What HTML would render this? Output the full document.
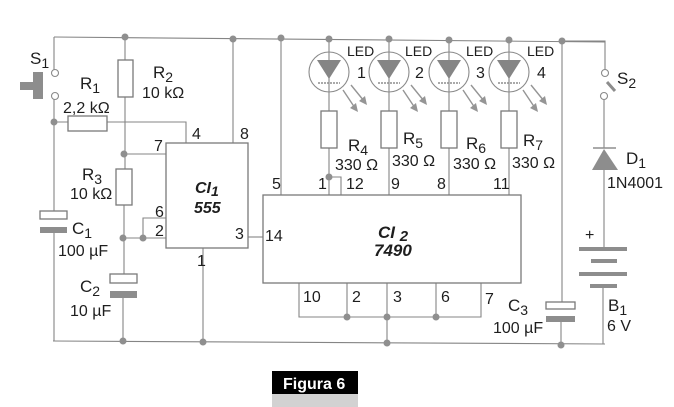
<!DOCTYPE html>
<html><head><meta charset="utf-8"><style>
html,body{margin:0;padding:0;background:#fff;}
svg{display:block;}
text{font-family:"Liberation Sans",Arial,sans-serif;fill:#1e1e1e;}
</style></head><body>
<svg width="674" height="407" viewBox="0 0 674 407" xmlns="http://www.w3.org/2000/svg">
<g stroke="#858585" stroke-width="1.1" fill="none">
<!-- top & bottom rails -->
<path d="M54 37 L605 42"/>
<path d="M53 341 L605 344"/>
<!-- left rail S1/C1 -->
<path d="M54 37 V70 M54 99 V211 M54 233 V341"/>
<!-- R2/R3/C2 column -->
<path d="M125 37 V60 M125 97 V169 M124 205 V274 M123 298 V341"/>
<!-- R1 -->
<path d="M54 122 H68 M107 122 H186 V143"/>
<!-- pin7 -->
<path d="M124 154 H166"/>
<!-- pin 2/6 -->
<path d="M123 238 H166 M143 238 V218 H166"/>
<!-- pin 8 -->
<path d="M233 39 V143"/>
<!-- pin 1 CI1 -->
<path d="M203 248 V342"/>
<!-- pin 3 to 14 -->
<path d="M248 237 H263"/>
<!-- pin 5 -->
<path d="M281 38 V195"/>
<!-- LED columns -->
<path d="M329 39 V111 M329 148 V195 M329 177 H341 V195"/>
<path d="M389 39 V111 M389 148 V195"/>
<path d="M449 40 V111 M449 148 V195"/>
<path d="M509 40 V111 M509 148 V195"/>
<!-- bottom pins CI2 -->
<path d="M299 283 V317 H481 V283 M347 283 V317 M387 283 V343 M436 283 V317"/>
<!-- C3 column -->
<path d="M562 41 V302 M561 322 V345"/>
<!-- S2/D1/B1 -->
<path d="M562 41 H605 V70 M604 99 V148 M604 170 V247 M603 288 V344"/>
</g>
<!-- ICs -->
<rect x="166" y="143" width="82" height="105" fill="#fff" stroke="#7a7a7a" stroke-width="1.3"/>
<rect x="263" y="195" width="258" height="88" fill="#fff" stroke="#7a7a7a" stroke-width="1.3"/>
<!-- resistors -->
<g fill="#fff" stroke="#7a7a7a" stroke-width="1.3">
<rect x="68" y="116" width="39" height="15"/>
<rect x="118" y="60" width="15" height="37"/>
<rect x="116" y="169" width="16" height="36"/>
<rect x="321" y="111" width="16" height="37"/>
<rect x="381" y="111" width="16" height="37"/>
<rect x="441" y="111" width="16" height="37"/>
<rect x="501" y="111" width="16" height="37"/>
<!-- capacitor white plates -->
<rect x="40" y="211" width="27" height="8"/>
<rect x="110" y="274" width="27" height="9"/>
<rect x="546" y="302" width="29" height="7"/>
</g>
<!-- capacitor filled plates -->
<g fill="#8d8d8d">
<rect x="40" y="227" width="27" height="6"/>
<rect x="110" y="291" width="27" height="7"/>
<rect x="546" y="316" width="29" height="6"/>
<!-- battery -->
<rect x="579" y="247" width="48" height="4"/>
<rect x="591" y="259" width="26" height="4"/>
<rect x="579" y="272" width="48" height="4"/>
<rect x="590" y="284" width="27" height="4"/>
<!-- push button S1 -->
<rect x="33" y="72" width="10" height="27"/>
<rect x="20" y="82" width="13" height="8"/>
<!-- diode -->
<path d="M604 149 L592 170 L618 170 Z"/>
</g>
<path d="M593 148 H616" stroke="#8d8d8d" stroke-width="1.5"/>
<!-- S1/S2 contacts -->
<g fill="#fff" stroke="#8a8a8a" stroke-width="1.1">
<circle cx="55" cy="73" r="3.5"/>
<circle cx="55" cy="96" r="3.5"/>
<circle cx="605" cy="73" r="3.5"/>
<circle cx="604" cy="96" r="3.5"/>
</g>
<path d="M607 82 L615 91" stroke="#8d8d8d" stroke-width="3"/>
<!-- LEDs -->
<g id="leds">
<g stroke="#8a8a8a" stroke-width="1.1" fill="none">
<circle cx="329" cy="72" r="20"/>
<circle cx="389" cy="72" r="20"/>
<circle cx="449" cy="72" r="20"/>
<circle cx="509" cy="72" r="20"/>
</g>
<g fill="#858585">
<path d="M317 60 H341 L329 79 Z"/>
<path d="M377 60 H401 L389 79 Z"/>
<path d="M437 60 H461 L449 79 Z"/>
<path d="M497 60 H521 L509 79 Z"/>
</g>
<g stroke="#8d8d8d" stroke-width="1.6" stroke-dasharray="2 1">
<path d="M318 83 H340 M378 83 H400 M438 83 H460 M498 83 H520"/>
</g>
<g stroke="#959595" stroke-width="1.4" fill="none">
<path d="M343 90 L355 108 M351 85 L364 101"/>
<path d="M403 90 L415 108 M411 85 L424 101"/>
<path d="M463 90 L475 108 M471 85 L484 101"/>
<path d="M523 90 L535 108 M531 85 L544 101"/>
</g>
<g fill="#959595">
<path d="M358 112 L350 108 L356 103 Z M367 105 L359 101 L365 96 Z"/>
<path d="M418 112 L410 108 L416 103 Z M427 105 L419 101 L425 96 Z"/>
<path d="M478 112 L470 108 L476 103 Z M487 105 L479 101 L485 96 Z"/>
<path d="M538 112 L530 108 L536 103 Z M547 105 L539 101 L545 96 Z"/>
</g>
</g>
<!-- junction dots -->
<g fill="#8f8f8f">
<circle cx="125" cy="37" r="3.5"/>
<circle cx="233" cy="39" r="3.5"/>
<circle cx="281" cy="38" r="3.5"/>
<circle cx="329" cy="39" r="3.5"/>
<circle cx="389" cy="39" r="3.5"/>
<circle cx="449" cy="40" r="3.5"/>
<circle cx="509" cy="40" r="3.5"/>
<circle cx="562" cy="41" r="3.5"/>
<circle cx="54" cy="122" r="3.5"/>
<circle cx="124" cy="154" r="3.5"/>
<circle cx="123" cy="238" r="3.5"/>
<circle cx="143" cy="238" r="3.5"/>
<circle cx="123" cy="341" r="3.5"/>
<circle cx="203" cy="342" r="3.5"/>
<circle cx="329" cy="177" r="3.5"/>
<circle cx="347" cy="317" r="3.5"/>
<circle cx="387" cy="317" r="3.5"/>
<circle cx="436" cy="317" r="3.5"/>
<circle cx="387" cy="343" r="3.5"/>
<circle cx="561" cy="345" r="3.5"/>
</g>
<!-- labels -->
<g font-size="17">
<text x="30" y="64">S<tspan font-size="14" dy="4">1</tspan></text>
<text x="80" y="89">R<tspan font-size="14" dy="4">1</tspan></text>
<text x="153" y="78">R<tspan font-size="14" dy="4">2</tspan></text>
<text x="82" y="180">R<tspan font-size="14" dy="4">3</tspan></text>
<text x="72" y="234">C<tspan font-size="14" dy="4">1</tspan></text>
<text x="80" y="292">C<tspan font-size="14" dy="4">2</tspan></text>
<text x="508" y="311">C<tspan font-size="14" dy="4">3</tspan></text>
<text x="348" y="151">R<tspan font-size="14" dy="4">4</tspan></text>
<text x="403" y="144">R<tspan font-size="14" dy="4">5</tspan></text>
<text x="466" y="149">R<tspan font-size="14" dy="4">6</tspan></text>
<text x="523" y="146">R<tspan font-size="14" dy="4">7</tspan></text>
<text x="617" y="84">S<tspan font-size="14" dy="4">2</tspan></text>
<text x="626" y="164">D<tspan font-size="14" dy="4">1</tspan></text>
<text x="608" y="311">B<tspan font-size="14" dy="4">1</tspan></text>
</g>
<g font-size="16">
<text x="63" y="113">2,2 kΩ</text>
<text x="142" y="98">10 kΩ</text>
<text x="70" y="199">10 kΩ</text>
<text x="58" y="256">100 µF</text>
<text x="70" y="316">10 µF</text>
<text x="493" y="333">100 µF</text>
<text x="335" y="170">330 Ω</text>
<text x="392" y="166">330 Ω</text>
<text x="453" y="169">330 Ω</text>
<text x="512" y="168">330 Ω</text>
<text x="607" y="188">1N4001</text>
<text x="607" y="331">6 V</text>
<text x="585" y="240">+</text>
<!-- pin numbers CI1 -->
<text x="192" y="139">4</text>
<text x="240" y="139">8</text>
<text x="154" y="151">7</text>
<text x="155" y="217">6</text>
<text x="155" y="236">2</text>
<text x="235" y="239">3</text>
<text x="197" y="266">1</text>
<!-- pins CI2 -->
<text x="272" y="189">5</text>
<text x="318" y="189">1</text>
<text x="346" y="189">12</text>
<text x="391" y="189">9</text>
<text x="437" y="189">8</text>
<text x="493" y="189">11</text>
<text x="265" y="241">14</text>
<text x="303" y="302">10</text>
<text x="352" y="302">2</text>
<text x="393" y="302">3</text>
<text x="441" y="302">6</text>
<text x="485" y="304">7</text>
</g>
<g font-size="14">
<text x="347" y="56">LED</text>
<text x="405" y="56">LED</text>
<text x="466" y="56">LED</text>
<text x="527" y="56">LED</text>
</g>
<g font-size="16">
<text x="357" y="78">1</text>
<text x="415" y="78">2</text>
<text x="476" y="78">3</text>
<text x="537" y="78">4</text>
</g>
<g font-weight="bold" font-style="italic">
<text x="195" y="193" font-size="16">CI<tspan font-size="14" dy="3">1</tspan></text>
<text x="194" y="213" font-size="16">555</text>
<text x="378" y="238" font-size="17">CI <tspan font-size="15" dy="3">2</tspan></text>
<text x="374" y="256" font-size="17">7490</text>
</g>
<!-- figure caption -->
<rect x="272" y="371" width="86" height="23" fill="#000"/>
<rect x="272" y="394" width="86" height="13" fill="#d2d2d2"/>
<text x="283" y="389" font-size="16" font-weight="bold" style="fill:#fff">Figura 6</text>
</svg>
</body></html>
